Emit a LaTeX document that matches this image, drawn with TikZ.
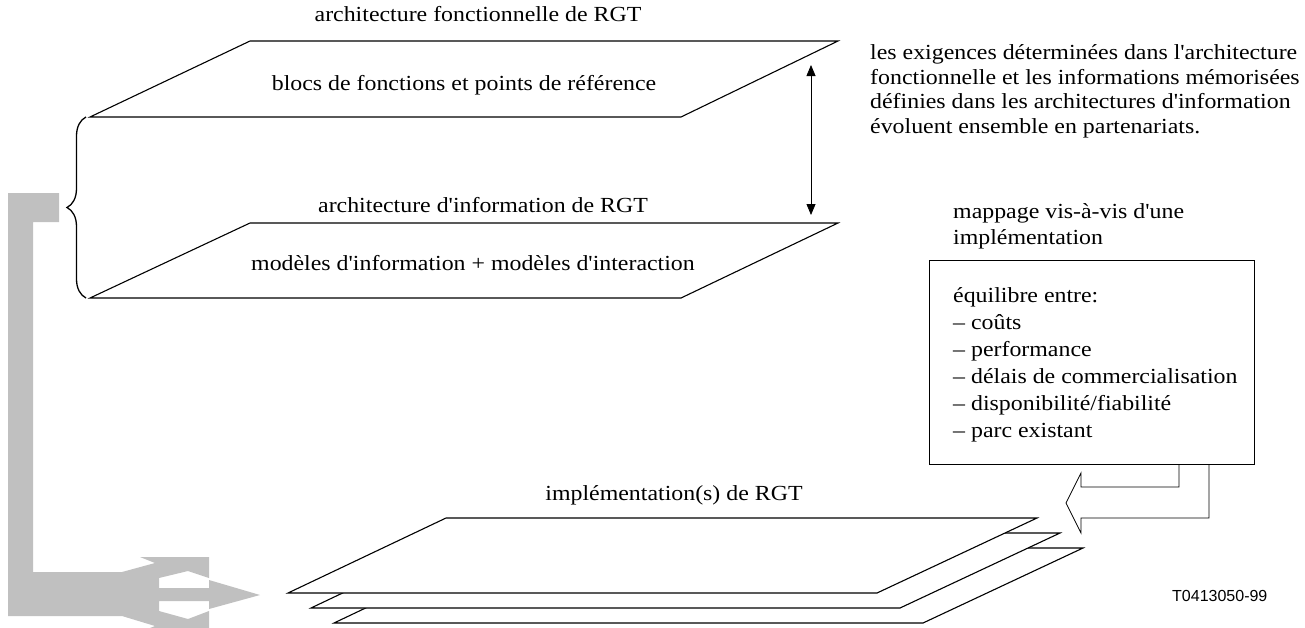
\documentclass[tikz,border=0pt]{standalone}
\usepackage{fontspec}
\setmainfont{Liberation Serif}
\newfontfamily\figfont{Liberation Serif}[FakeStretch=1.11]
\newfontfamily\labelsans{Liberation Sans}
\usetikzlibrary{arrows.meta,decorations.pathreplacing}
\definecolor{feedgray}{RGB}{192,192,192}
\begin{document}
\begin{tikzpicture}[x=1pt,y=-1pt,
  plane/.style={draw=black,line width=1.1pt,fill=white,line join=miter},
  txt/.style={inner sep=0pt,anchor=base,font=\figfont\fontsize{21.5}{24}\selectfont},
  txtl/.style={inner sep=0pt,anchor=base west,font=\figfont\fontsize{21.5}{24}\selectfont},
  thin/.style={draw=black,line width=0.8pt},
  twoway/.style={thin,{Triangle[length=11pt,width=9pt]}-{Triangle[length=11pt,width=9pt]}},
]
\useasboundingbox (0,0) rectangle (1305,627);

% broad grey feedback arrow that splits towards the implementation planes
\fill[feedgray] (8,193) -- (59,193) -- (59,222) -- (33,222) -- (33,572)
  -- (122,572) -- (155,563) -- (140,557) -- (209,557) -- (209,578)
  -- (188,571) -- (159,578) -- (159,588) -- (209,588) -- (209,580)
  -- (260,595) -- (209,609) -- (209,601) -- (159,601) -- (159,611)
  -- (188,619) -- (209,611) -- (209,632) -- (140,632) -- (155,626)
  -- (122,616) -- (8,616) -- cycle;

% functional architecture plane
\coordinate (fa1) at (250,41);  \coordinate (fa2) at (838,41);
\coordinate (fa3) at (681,117); \coordinate (fa4) at (90,117);
\draw[plane] (fa1) -- (fa2) -- (fa3) -- (fa4) -- cycle;

% information architecture plane
\coordinate (ia1) at (250,223);  \coordinate (ia2) at (838,223);
\coordinate (ia3) at (681,298);  \coordinate (ia4) at (90,298);
\draw[plane] (ia1) -- (ia2) -- (ia3) -- (ia4) -- cycle;

\node[txt] (tfa) at (478,21) {architecture fonctionnelle de RGT};
\node[txt] (bfa) at (464,90) {blocs de fonctions et points de référence};
\node[txt] (tia) at (483,212) {architecture d'information de RGT};
\node[txt] (bia) at (473,270) {modèles d'information + modèles d'interaction};

% brace grouping the two architecture planes
\draw[thin,line width=1.3pt,decorate,decoration={brace,amplitude=19pt}]
  (86,298) -- (86,117);

% co-evolution of the two architectures
\coordinate (evtop) at (811,65);
\coordinate (evbot) at (811,215);
\draw[twoway] (evtop) -- (evbot);

\node[txtl] (req1) at (870,59) {les exigences déterminées dans l'architecture};
\node[txtl] (req2) at (870,84) {fonctionnelle et les informations mémorisées};
\node[txtl] (req3) at (870,108) {définies dans les architectures d'information};
\node[txtl] (req4) at (870,133) {évoluent ensemble en partenariats.};

\node[txtl] (map1) at (953,218) {mappage vis-à-vis d'une};
\node[txtl] (map2) at (953,244) {implémentation};

% trade-off box
\draw[thin,line width=1pt] (929,260) rectangle (1254,464);
\node[txtl] (bal0) at (953,302) {équilibre entre:};
\node[txtl] (bal1) at (953,329) {– coûts};
\node[txtl] (bal2) at (953,356) {– performance};
\node[txtl] (bal3) at (953,383) {– délais de commercialisation};
\node[txtl] (bal4) at (953,410) {– disponibilité/fiabilité};
\node[txtl] (bal5) at (953,437) {– parc existant};

% hollow arrow from the box towards the implementations
\draw[thin,line join=miter] (1179,464) -- (1179,487) -- (1081,487) -- (1081,473)
  -- (1066,503) -- (1081,533) -- (1081,518) -- (1209,518) -- (1209,464);

% stacked implementation planes
\foreach \k/\dx/\dy in {3/46/30, 2/23/15, 1/0/0}{
  \draw[plane] ({446+\dx},{518+\dy}) -- ({1037+\dx},{518+\dy})
    -- ({877+\dx},{593+\dy}) -- ({288+\dx},{593+\dy}) -- cycle;
}
\node[txt] (timp) at (674,500) {implémentation(s) de RGT};

\node[inner sep=0pt,anchor=base west,font=\labelsans\fontsize{16}{18}\selectfont]
  (ref) at (1172,601) {T0413050-99};
\end{tikzpicture}
\end{document}
